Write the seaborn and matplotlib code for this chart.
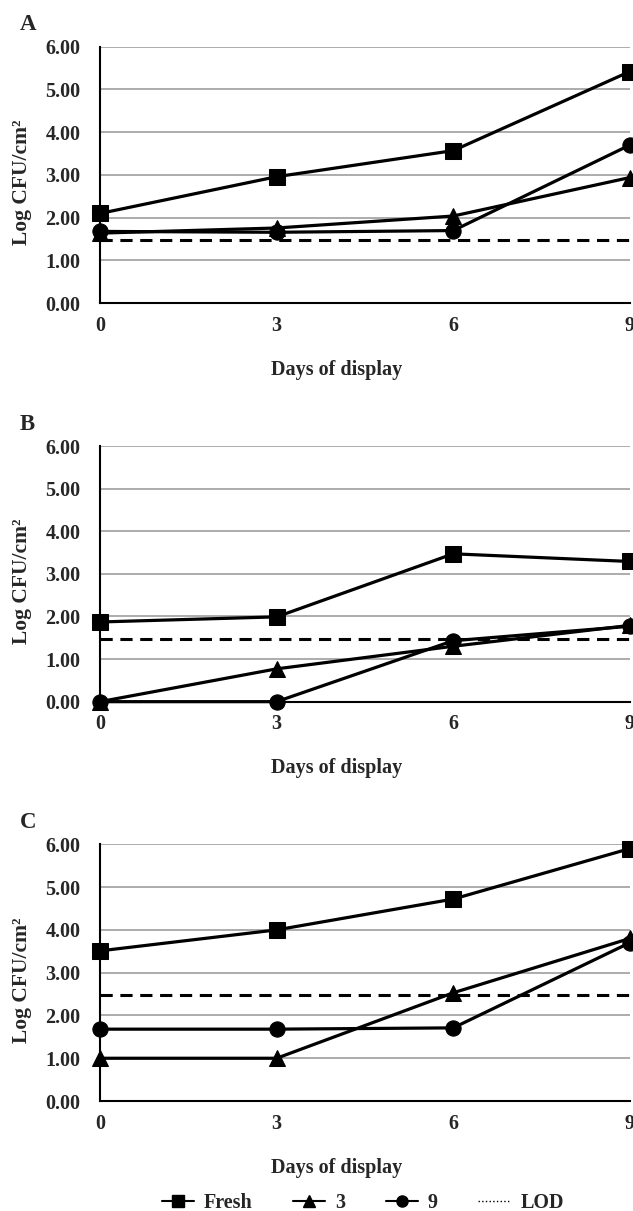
import numpy as np
import pandas as pd
import matplotlib
matplotlib.use("Agg")
import matplotlib.pyplot as plt
from matplotlib.lines import Line2D
import seaborn as sns

# =========================
# Data
# =========================
days = [0, 3, 6, 9]

fresh_a = [2.10, 2.96, 3.57, 5.42]
tri_a = [1.64, 1.76, 2.04, 2.94]
circ_a = [1.68, 1.66, 1.70, 3.70]
lod_a = 1.48

fresh_b = [1.87, 1.99, 3.47, 3.29]
tri_b = [0.00, 0.77, 1.30, 1.79]
circ_b = [0.00, 0.00, 1.43, 1.77]
lod_b = 1.48

fresh_c = [3.51, 4.00, 4.72, 5.90]
tri_c = [1.00, 1.00, 2.53, 3.80]
circ_c = [1.68, 1.68, 1.71, 3.70]
lod_c = 2.47

panels = ["A", "B", "C"]
series_names = ["Fresh", "3", "9"]
series_markers = ["s", "^", "o"]
panel_data = [
    (fresh_a, tri_a, circ_a, lod_a),
    (fresh_b, tri_b, circ_b, lod_b),
    (fresh_c, tri_c, circ_c, lod_c),
]

# =========================
# Style
# =========================
sns.set_style("white")
plt.rcParams['font.family'] = ['Liberation Serif', 'DejaVu Serif']
plt.rcParams['font.weight'] = 'bold'
plt.rcParams['axes.labelweight'] = 'bold'

fig = plt.figure(figsize=(6.33, 12.11), dpi=100)

# axes boxes in figure fractions: [left, bottom, width, height]
boxes = [
    [0.158, 0.7496, 0.837, 0.2118],
    [0.158, 0.4206, 0.837, 0.2111],
    [0.158, 0.0908, 0.837, 0.2120],
]

for letter, box, (fr, tr, ci, lod) in zip(panels, boxes, panel_data):
    ax = fig.add_axes(box)
    df = pd.DataFrame({
        "day": days * 3,
        "value": fr + tr + ci,
        "series": [s for s in series_names for _ in days],
    })

    # grid lines
    for yv in range(1, 7):
        ax.axhline(yv, color="#a6a6a6", lw=1.3, zorder=0)

    ax.axhline(lod, color="black", lw=2.2, ls=(0, (4, 2.5)), zorder=1)

    for name, mk in zip(series_names, series_markers):
        sub = df[df["series"] == name]
        sns.lineplot(data=sub, x="day", y="value", ax=ax, color="black",
                     lw=2.3, marker=mk, markersize=11 if mk != "^" else 12,
                     markeredgecolor="black", markerfacecolor="black",
                     clip_on=False, zorder=3, legend=False)

    ax.set_xlim(0, 9)
    ax.set_ylim(0, 6)
    ax.set_xticks(days)
    ax.set_yticks(np.arange(0, 7, 1))
    ax.set_yticklabels([f"{v:.2f}" for v in np.arange(0, 7, 1)])
    ax.tick_params(axis="x", direction="in", length=7, width=1.3,
                   labelsize=14.5, pad=9)
    ax.tick_params(axis="y", direction="out", length=0, width=1.3,
                   labelsize=14.5, pad=14)
    for lab in ax.get_xticklabels() + ax.get_yticklabels():
        lab.set_fontweight("bold")

    for side in ["top", "right"]:
        ax.spines[side].set_visible(False)
    for side in ["left", "bottom"]:
        ax.spines[side].set_color("black")
        ax.spines[side].set_linewidth(1.5)

    ax.set_xlabel("Days of display", fontsize=14.5, fontweight="bold")
    ax.xaxis.set_label_coords(0.447, -0.22)
    ax.set_ylabel("Log CFU/cm²", fontsize=15.5, fontweight="bold")
    ax.yaxis.set_label_coords(-0.128, 0.47)

    ax.text(-0.152, 1.085, letter, transform=ax.transAxes, fontsize=16.5,
            fontweight="bold", ha="left", va="center")

# legend at the bottom
handles = [
    Line2D([], [], color="black", lw=1.5, marker="s", markersize=8),
    Line2D([], [], color="black", lw=1.5, marker="^", markersize=9),
    Line2D([], [], color="black", lw=1.5, marker="o", markersize=8),
    Line2D([], [], color="black", lw=1.0, ls=":"),
]
fig.legend(handles, series_names + ["LOD"], loc="center",
           bbox_to_anchor=(0.573, 0.0068), ncol=4, frameon=False,
           prop={"size": 14.5, "weight": "bold"}, handlelength=1.6,
           handletextpad=0.5, columnspacing=2.0)

fig.savefig("out.png", dpi=100)
